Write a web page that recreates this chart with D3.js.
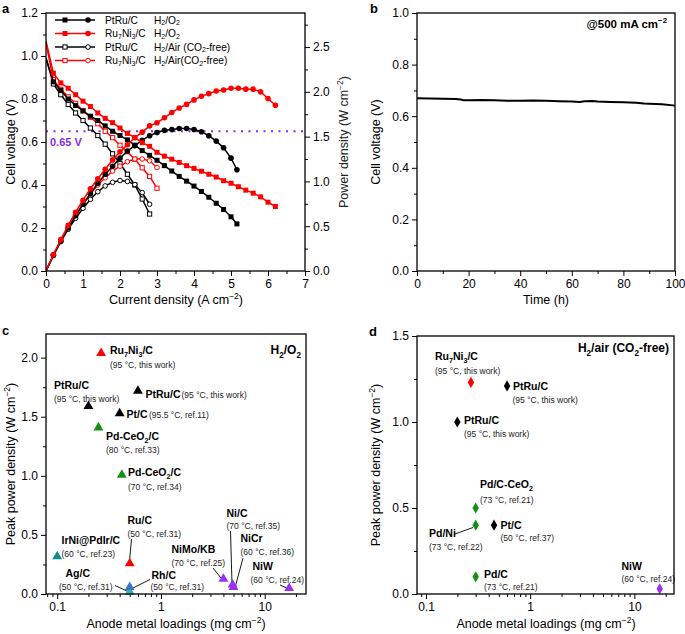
<!DOCTYPE html>
<html><head><meta charset="utf-8">
<script src="https://cdn.jsdelivr.net/npm/d3@7"></script>
<style>
body{margin:0;background:#fff;}
svg{font-family:"Liberation Sans",Arial,sans-serif;}
</style></head>
<body><svg id="c" width="685" height="634"></svg>
<script>
// ---------- Panel a data ----------
const curPtRuO2 = [0,0.2,0.4,0.6,0.8,1.0,1.2,1.4,1.6,1.8,2.0,2.2,2.4,2.6,2.8,3.0,3.2,3.4,3.6,3.8,4.0,4.2,4.4,4.6,4.8,5.0,5.16];
const voltPtRuO2 = [0.99,0.88,0.84,0.80,0.77,0.745,0.72,0.70,0.675,0.65,0.63,0.61,0.585,0.56,0.538,0.515,0.49,0.465,0.44,0.418,0.395,0.37,0.343,0.315,0.286,0.252,0.219];
const powPtRuO2  = [0,0.176,0.336,0.48,0.616,0.745,0.864,0.98,1.08,1.17,1.26,1.34,1.40,1.46,1.51,1.545,1.57,1.58,1.59,1.59,1.58,1.555,1.51,1.45,1.375,1.26,1.13];

const curRuNiO2 = [0,0.2,0.4,0.6,0.8,1.0,1.2,1.4,1.6,1.8,2.0,2.2,2.4,2.6,2.8,3.0,3.2,3.4,3.6,3.8,4.0,4.2,4.4,4.6,4.8,5.0,5.2,5.4,5.6,5.8,6.0,6.2];
const voltRuNiO2 = [1.07,0.92,0.875,0.85,0.82,0.79,0.765,0.735,0.71,0.69,0.665,0.64,0.62,0.597,0.58,0.552,0.534,0.52,0.505,0.49,0.477,0.464,0.45,0.437,0.42,0.408,0.392,0.376,0.362,0.345,0.32,0.30];
const powRuNiO2  = [0,0.184,0.35,0.51,0.656,0.79,0.918,1.03,1.136,1.24,1.33,1.41,1.49,1.55,1.62,1.655,1.71,1.77,1.82,1.86,1.91,1.95,1.98,2.01,2.02,2.04,2.04,2.03,2.03,2.0,1.925,1.85];

const curPtRuAir = [0,0.2,0.4,0.6,0.8,1.0,1.2,1.4,1.6,1.8,2.0,2.2,2.4,2.6,2.8];
const voltPtRuAir = [0.99,0.87,0.82,0.775,0.735,0.70,0.665,0.63,0.59,0.545,0.50,0.45,0.40,0.335,0.265];
const powPtRuAir  = [0,0.174,0.328,0.465,0.588,0.70,0.80,0.885,0.95,0.99,1.01,1.0,0.965,0.875,0.745];

const curRuNiAir = [0,0.2,0.4,0.6,0.8,1.0,1.2,1.4,1.6,1.8,2.0,2.2,2.4,2.6,2.8,3.0];
const voltRuNiAir = [1.06,0.89,0.845,0.81,0.78,0.745,0.715,0.685,0.65,0.62,0.585,0.555,0.52,0.48,0.44,0.385];
const powRuNiAir  = [0,0.178,0.338,0.486,0.624,0.745,0.858,0.96,1.04,1.116,1.17,1.22,1.25,1.25,1.23,1.155];

const legendNames = ["PtRu/C","Ru_{7}Ni_{3}/C","PtRu/C","Ru_{7}Ni_{3}/C"];
const legendConds = ["H_{2}/O_{2}","H_{2}/O_{2}","H_{2}/Air (CO_{2}-free)","H_{2}/Air(CO_{2}-free)"];
const refVoltage = 0.65;

const ticksA_x = [0,1,2,3,4,5,6,7];
const ticksA_yl = [0,0.2,0.4,0.6,0.8,1.0,1.2];
const ticksA_yr = [0,0.5,1.0,1.5,2.0,2.5];

// ---------- Panel b data ----------
const timeB = [0,5,10,15,17,18,20,25,30,35,40,45,50,55,60,63,65,68,70,75,80,85,88,90,95,100];
const voltB = [0.670,0.669,0.668,0.667,0.665,0.662,0.662,0.663,0.662,0.660,0.660,0.661,0.660,0.658,0.657,0.655,0.658,0.659,0.657,0.655,0.654,0.652,0.649,0.648,0.646,0.641];
const ticksB_x = [0,20,40,60,80,100];
const ticksB_y = [0,0.2,0.4,0.6,0.8,1.0];

// ---------- Panel c data (H2/O2) ----------
const namesC   = ["Ru_{7}Ni_{3}/C","PtRu/C","PtRu/C","Pt/C","Pd-CeO_{2}/C","Pd-CeO_{2}/C","IrNi@PdIr/C","Ru/C","Ag/C","Rh/C","NiMo/KB","Ni/C","NiCr","NiW"];
const condsC   = ["(95 °C, this work)","(95 °C, this work)","(95 °C, this work)","(95.5 °C, ref.11)","(80 °C, ref.33)","(70 °C, ref.34)","(60 °C, ref.23)","(50 °C, ref.31)","(50 °C, ref.31)","(50 °C, ref.31)","(70 °C, ref.25)","(70 °C, ref.35)","(60 °C, ref.36)","(60 °C, ref.24)"];
const loadingC = [0.265,0.2,0.6,0.4,0.25,0.42,0.1,0.5,0.5,0.5,4.0,4.9,5.0,17.2];
const peakC    = [2.03,1.58,1.71,1.52,1.40,1.00,0.31,0.25,0.01,0.05,0.12,0.07,0.05,0.04];
const groupC   = ["Ru","Pt","Pt","Pt","Pd","Pd","Ir","Ru","Ag","Rh","Ni","Ni","Ni","Ni"];
const ticksC_y = [0,0.5,1.0,1.5,2.0];

// ---------- Panel d data (H2/air) ----------
const namesD   = ["Ru_{7}Ni_{3}/C","PtRu/C","PtRu/C","Pd/C-CeO_{2}","Pd/Ni","Pt/C","Pd/C","NiW"];
const condsD   = ["(95 °C, this work)","(95 °C, this work)","(95 °C, this work)","(73 °C, ref.21)","(73 °C, ref.22)","(50 °C, ref.37)","(73 °C, ref.21)","(60 °C, ref.24)"];
const loadingD = [0.27,0.6,0.2,0.3,0.3,0.45,0.3,17.5];
const peakD    = [1.23,1.21,1.0,0.5,0.4,0.4,0.1,0.03];
const groupD   = ["Ru","Pt","Pt","Pd","Pd","Pt","Pd","Ni"];
const ticksD_y = [0,0.5,1.0,1.5];
const ticksLog = [0.1,1,10];

// ---------- helpers ----------
const svg = d3.select("#c");
const FS = 12;
const TITLE = 12.5;
const groupColor = d3.scaleOrdinal()
  .domain(["Ru","Pt","Pd","Ir","Ag","Rh","Ni"])
  .range(["#ff0000","#000000","#168f16","#138a8a","#2bb3bf","#3c74c4","#9a30f5"]);

function rich(sel, s, fs, subK){
  const sk = subK==null ? 0.3 : subK;
  const parts = s.split(/(_\{[^}]*\}|\^\{[^}]*\})/).filter(p=>p!=="");
  let shift = 0;
  parts.forEach(p=>{
    let t="n", txt=p;
    if(p.startsWith("_{")){t="sub";txt=p.slice(2,-1);}
    else if(p.startsWith("^{")){t="sup";txt=p.slice(2,-1);}
    const target = t==="sub"? fs*sk : (t==="sup"? -fs*0.42 : 0);
    const ts = sel.append("tspan").attr("dy", target-shift).text(txt);
    if(t!=="n") ts.attr("font-size", fs*0.68);
    shift = target;
  });
  return sel;
}
function text(g, x, y, s, fs, opts={}){
  const t = g.append("text").attr("x",x).attr("y",y).attr("font-size",fs)
    .attr("fill", opts.fill||"#000").attr("font-weight", opts.bold?"bold":"normal")
    .attr("text-anchor", opts.anchor||"start");
  if(opts.rotate) t.attr("transform",`rotate(-90,${x},${y})`);
  return rich(t, s, fs, opts.sub);
}
function axisStyle(g){
  g.select(".domain").remove();
  g.selectAll("line").attr("stroke","#000").attr("stroke-width",1);
  g.selectAll("text").attr("font-size",FS).attr("fill","#000").attr("font-family","Liberation Sans, Arial, sans-serif");
}
function addAxis(g, axisFn, scale, pos, major, minor, fmt){
  const mk = (vals, size, f) => {
    const a = axisFn(scale).tickValues(vals).tickSize(size).tickPadding(3);
    a.tickFormat(f);
    const ax = g.append("g").attr("transform", pos).call(a);
    axisStyle(ax);
    return ax;
  };
  if(minor) mk(minor, 3, ()=> "");
  mk(major, 5, fmt);
}
function frame(g, P, w){
  g.append("rect").attr("x",P.l).attr("y",P.t).attr("width",P.r-P.l).attr("height",P.b-P.t)
   .attr("fill","none").attr("stroke","#000").attr("stroke-width",w||1.3);
}

// ---------- Panel a ----------
(function(){
  const P = {l:46,r:305,t:13,b:271};
  const g = svg.append("g");
  const x = d3.scaleLinear().domain([0,7]).range([P.l,P.r]);
  const yl = d3.scaleLinear().domain([0,1.2]).range([P.b,P.t]);
  const yr = d3.scaleLinear().domain([0,2.88]).range([P.b,P.t]);
  const f1 = d3.format(".1f");
  addAxis(g, d3.axisBottom, x, `translate(0,${P.b})`, ticksA_x, [0.5,1.5,2.5,3.5,4.5,5.5,6.5], d3.format("d"));
  addAxis(g, d3.axisLeft, yl, `translate(${P.l},0)`, ticksA_yl, [0.1,0.3,0.5,0.7,0.9,1.1], f1);
  addAxis(g, d3.axisRight, yr, `translate(${P.r},0)`, ticksA_yr, [0.25,0.75,1.25,1.75,2.25,2.75], f1);

  // reference line
  g.append("line").attr("x1",P.l).attr("x2",P.r).attr("y1",yl(refVoltage)).attr("y2",yl(refVoltage))
   .attr("stroke","#8a2be2").attr("stroke-width",2).attr("stroke-dasharray","2,5.5");
  text(g, 50, yl(refVoltage)+14.5, refVoltage.toFixed(2)+" V", 11, {bold:true, fill:"#8a2be2"});

  const series = [
    {c:curPtRuAir, v:voltPtRuAir, p:powPtRuAir, col:"#000", open:true},
    {c:curRuNiAir, v:voltRuNiAir, p:powRuNiAir, col:"#ff0000", open:true},
    {c:curPtRuO2, v:voltPtRuO2, p:powPtRuO2, col:"#000", open:false},
    {c:curRuNiO2, v:voltRuNiO2, p:powRuNiO2, col:"#ff0000", open:false},
  ];
  const clipId="clipA";
  g.append("clipPath").attr("id",clipId).append("rect").attr("x",P.l).attr("y",P.t-2).attr("width",P.r-P.l).attr("height",P.b-P.t+2);
  const pg = g.append("g").attr("clip-path",`url(#${clipId})`);
  series.forEach(s=>{
    const vd = s.c.map((c,i)=>[c,s.v[i]]);
    const pd = s.c.map((c,i)=>[c,s.p[i]]);
    pg.append("path").datum(vd).attr("fill","none").attr("stroke",s.col).attr("stroke-width",1.5)
      .attr("d", d3.line().x(d=>x(d[0])).y(d=>yl(d[1])));
    pg.append("path").datum(pd).attr("fill","none").attr("stroke",s.col).attr("stroke-width",1.5)
      .attr("d", d3.line().x(d=>x(d[0])).y(d=>yr(d[1])));
    const sq = s.open?4.2:5;
    pg.selectAll(null).data(vd.slice(1)).enter().append("rect")
      .attr("x",d=>x(d[0])-sq/2).attr("y",d=>yl(d[1])-sq/2).attr("width",sq).attr("height",sq)
      .attr("fill", s.open?"#fff":s.col).attr("stroke",s.col).attr("stroke-width",s.open?1:0);
    pg.selectAll(null).data(pd.slice(1)).enter().append("circle")
      .attr("cx",d=>x(d[0])).attr("cy",d=>yr(d[1])).attr("r", s.open?2.3:2.8)
      .attr("fill", s.open?"#fff":s.col).attr("stroke",s.col).attr("stroke-width",s.open?1:0);
  });
  frame(g,P);

  // legend
  const rows=[20,33.5,47,60.5];
  const lc=[{col:"#000",open:false},{col:"#ff0000",open:false},{col:"#000",open:true},{col:"#ff0000",open:true}];
  rows.forEach((ry,i)=>{
    const s=lc[i];
    g.append("line").attr("x1",55).attr("x2",95).attr("y1",ry).attr("y2",ry).attr("stroke",s.col).attr("stroke-width",1.5);
    const sq = s.open?4.2:5;
    g.append("rect").attr("x",65-sq/2).attr("y",ry-sq/2).attr("width",sq).attr("height",sq)
      .attr("fill",s.open?"#fff":s.col).attr("stroke",s.col).attr("stroke-width",s.open?1:0);
    g.append("circle").attr("cx",88).attr("cy",ry).attr("r",s.open?2.3:2.8)
      .attr("fill",s.open?"#fff":s.col).attr("stroke",s.col).attr("stroke-width",s.open?1:0);
    text(g,105,ry+3.6,legendNames[i],10.2,{sub:0.18});
    text(g,154,ry+3.6,legendConds[i],10.2,{sub:0.18});
  });

  text(g, 2, 13, "a", 13, {bold:true});
  text(g, 176, 304, "Current density (A cm^{−2})", TITLE, {anchor:"middle"});
  text(g, 15, 142, "Cell voltage (V)", TITLE, {anchor:"middle", rotate:true});
  text(g, 348, 142, "Power density (W cm^{−2})", TITLE, {anchor:"middle", rotate:true, fill:"#222"});
})();

// ---------- Panel b ----------
(function(){
  const P = {l:417,r:675,t:13,b:271};
  const g = svg.append("g");
  const x = d3.scaleLinear().domain([0,100]).range([P.l,P.r]);
  const y = d3.scaleLinear().domain([0,1]).range([P.b,P.t]);
  addAxis(g, d3.axisBottom, x, `translate(0,${P.b})`, ticksB_x, [10,30,50,70,90], d3.format("d"));
  addAxis(g, d3.axisLeft, y, `translate(${P.l},0)`, ticksB_y, [0.1,0.3,0.5,0.7,0.9], d3.format(".1f"));
  g.append("path").datum(timeB.map((t,i)=>[t,voltB[i]])).attr("fill","none").attr("stroke","#000").attr("stroke-width",2)
    .attr("d", d3.line().x(d=>x(d[0])).y(d=>y(d[1])));
  frame(g,P);
  text(g, 370, 13, "b", 13, {bold:true});
  text(g, 667, 28, "@500 mA cm^{−2}", 11.5, {anchor:"end", bold:true});
  text(g, 546, 304, "Time (h)", TITLE, {anchor:"middle"});
  text(g, 380, 142, "Cell voltage (V)", TITLE, {anchor:"middle", rotate:true});
})();

// log axes helper
function logMinor(lo,hi){
  const out=[];
  [0.01,0.1,1,10].forEach(d=>{ for(let k=2;k<=9;k++){const v=k*d; if(v>lo&&v<hi) out.push(v);} });
  return out;
}
function fmtLog(v){ return v<1? String(v) : d3.format("d")(v); }

// ---------- Panel c ----------
(function(){
  const P = {l:46,r:306,t:334,b:594};
  const g = svg.append("g");
  const x = d3.scaleLog().domain([0.078,25]).range([P.l,P.r]);
  const y = d3.scaleLinear().domain([0,2.2]).range([P.b,P.t]);
  addAxis(g, d3.axisBottom, x, `translate(0,${P.b})`, ticksLog, logMinor(0.078,25), fmtLog);
  addAxis(g, d3.axisLeft, y, `translate(${P.l},0)`, ticksC_y, [0.25,0.75,1.25,1.75], d3.format(".1f"));
  // leader lines
  const leaders = [
    [131.5,539,129.5,561],   // Ru/C
    [213,568,221,578],       // NiMo/KB
    [230.5,531,232,584],     // Ni/C
    [243,558,235.5,586],     // NiCr
    [280,585,288,588.5],     // NiW
    [115,585.5,128,591.5],   // Ag/C
    [150,579.5,132,588.5],   // Rh/C
  ];
  leaders.forEach(l=>g.append("line").attr("x1",l[0]).attr("y1",l[1]).attr("x2",l[2]).attr("y2",l[3]).attr("stroke","#000").attr("stroke-width",0.9));
  const tri = d3.symbol().type(d3.symbolTriangle).size(42);
  namesC.forEach((n,i)=>{
    g.append("path").attr("d",tri).attr("transform",`translate(${x(loadingC[i])},${y(peakC[i])-1})`)
     .attr("fill",groupColor(groupC[i]));
  });
  const lab = [
    [110,354,110,367.5],
    [54,389,54,401.5],
    [145.5,397.5,181.5,397.5],
    [126.5,417.5,149,417.5],
    [106,440,106,453],
    [128,476,128,489.5],
    [61.5,544,61.5,557],
    [127.5,523.5,127.5,536.5],
    [65.5,577,59,589.5],
    [151.5,578.5,150.5,589.5],
    [171.5,552.5,171.5,565.5],
    [226.5,516.5,226.5,529],
    [240.5,541.5,240.5,555],
    [252.5,570,250.5,583],
  ];
  namesC.forEach((n,i)=>{
    const L=lab[i];
    text(g,L[0],L[1],n,10.5,{bold:true});
    text(g,L[2],L[3],condsC[i],8.5,{fill:"#222"});
  });
  frame(g,P);
  text(g, 301, 354, "H_{2}/O_{2}", 12, {bold:true, anchor:"end"});
  text(g, 2, 335, "c", 13, {bold:true});
  text(g, 176, 628, "Anode metal loadings (mg cm^{−2})", TITLE, {anchor:"middle"});
  text(g, 15, 464, "Peak power density (W cm^{−2})", TITLE, {anchor:"middle", rotate:true});
})();

// ---------- Panel d ----------
(function(){
  const P = {l:417,r:674,t:336,b:594};
  const g = svg.append("g");
  const x = d3.scaleLog().domain([0.082,24]).range([P.l,P.r]);
  const y = d3.scaleLinear().domain([0,1.5]).range([P.b,P.t]);
  addAxis(g, d3.axisBottom, x, `translate(0,${P.b})`, ticksLog, logMinor(0.082,24), fmtLog);
  addAxis(g, d3.axisLeft, y, `translate(${P.l},0)`, ticksD_y, [0.25,0.75,1.25], d3.format(".1f"));
  g.append("line").attr("x1",455).attr("y1",534).attr("x2",473).attr("y2",527.5).attr("stroke","#000").attr("stroke-width",0.9);
  const dia = d3.symbol().type(d3.symbolDiamond).size(36);
  namesD.forEach((n,i)=>{
    g.append("path").attr("d",dia).attr("transform",`translate(${x(loadingD[i])},${y(peakD[i])})`)
     .attr("fill",groupColor(groupD[i]));
  });
  const lab = [
    [435,360,435,374],
    [513,390,512.5,403],
    [464,424,464,437],
    [480,487.5,480,502.5],
    [429,537,429,550],
    [500.5,528.5,500.5,541],
    [484,578,484,589.5],
    [621.5,570,621.5,582],
  ];
  namesD.forEach((n,i)=>{
    const L=lab[i];
    text(g,L[0],L[1],n,10.5,{bold:true});
    text(g,L[2],L[3],condsD[i],8.5,{fill:"#222"});
  });
  frame(g,P);
  text(g, 669, 352, "H_{2}/air (CO_{2}-free)", 12, {bold:true, anchor:"end"});
  text(g, 369, 336, "d", 13, {bold:true});
  text(g, 546, 628, "Anode metal loadings (mg cm^{−2})", TITLE, {anchor:"middle"});
  text(g, 380, 465, "Peak power density (W cm^{−2})", TITLE, {anchor:"middle", rotate:true});
})();
</script></body></html>
